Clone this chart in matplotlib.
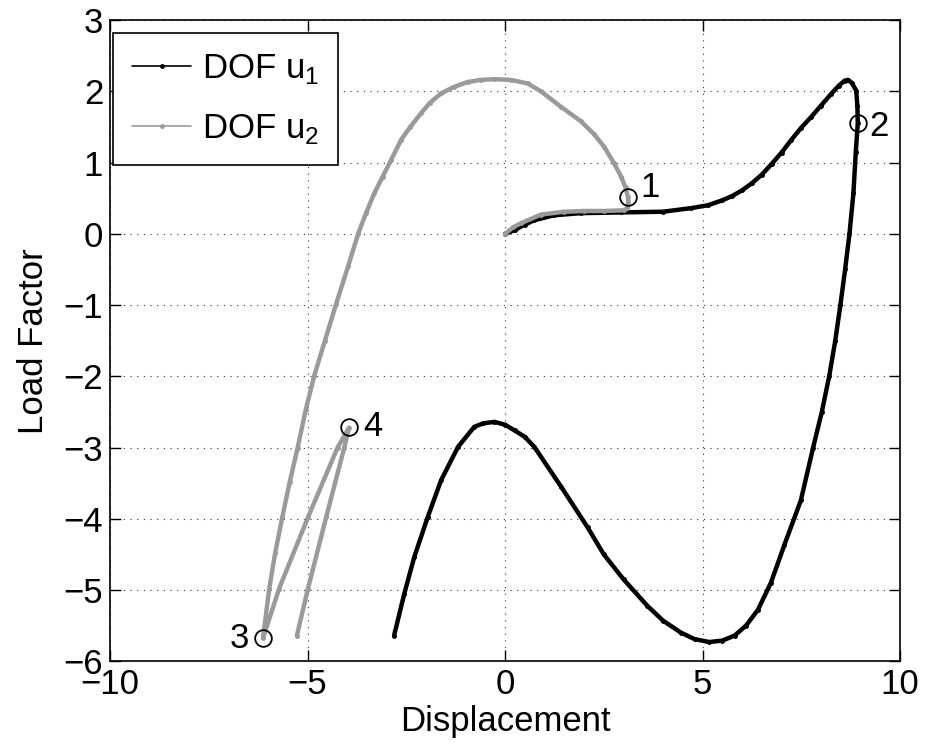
import matplotlib.pyplot as plt

plt.rcParams['font.family'] = ['Liberation Sans', 'DejaVu Sans']
plt.rcParams['mathtext.fontset'] = 'custom'
plt.rcParams['mathtext.rm'] = 'Liberation Sans'

# equilibrium path of DOF u1 (displacement, load factor)
u1_disp = [0.0, 0.24, 0.5, 0.74, 1.24, 1.92, 2.94, 4.0, 4.71, 5.13, 5.5, 5.75,
           6.0, 6.25, 6.5, 6.75, 7.0, 7.25, 7.5, 7.75, 8.0, 8.25, 8.45, 8.6,
           8.68, 8.78, 8.89, 8.92, 8.93, 8.88, 8.82, 8.72, 8.61, 8.49, 8.36, 8.21,
           8.02, 7.80, 7.49, 7.07, 6.73, 6.4, 6.1, 5.81, 5.5, 5.17, 4.8, 4.46,
           4.0, 3.6, 3.0, 2.5, 2.09, 1.42, 0.74, 0.5, 0.24, 0.0, -0.27, -0.55,
           -0.78, -1.19, -1.62, -1.96, -2.30, -2.55, -2.81]
u1_load = [0.0, 0.05, 0.13, 0.19, 0.26, 0.29, 0.30, 0.31, 0.36, 0.40, 0.47, 0.53,
           0.61, 0.71, 0.83, 0.98, 1.14, 1.32, 1.49, 1.64, 1.80, 1.96, 2.08, 2.15,
           2.16, 2.12, 2.01, 1.80, 1.55, 1.15, 0.57, 0.0, -0.5, -1.0, -1.5, -1.99,
           -2.5, -3.0, -3.74, -4.37, -4.9, -5.28, -5.5, -5.64, -5.71, -5.73, -5.69, -5.6,
           -5.43, -5.22, -4.85, -4.5, -4.12, -3.55, -2.99, -2.85, -2.76, -2.68, -2.64, -2.66,
           -2.71, -2.99, -3.46, -3.98, -4.54, -5.05, -5.64]

# equilibrium path of DOF u2
u2_disp = [0.0, 0.2, 0.41, 0.91, 1.5, 2.0, 2.5, 3.0, 3.1, 3.12, 3.11, 3.05, 2.94,
           2.76, 2.51, 2.25, 1.92, 1.42, 0.91, 0.57, 0.15, -0.27, -0.62, -0.95,
           -1.30, -1.62, -1.90, -2.13, -2.40, -2.63, -2.89, -3.10, -3.31, -3.52,
           -3.72, -3.97, -4.28, -4.56, -4.83, -5.05, -5.25, -5.45, -5.64, -5.82,
           -5.97, -6.13, -5.72, -4.99, -4.24, -3.95, -4.07, -4.53, -4.99, -5.27]
u2_load = [0.0, 0.09, 0.15, 0.27, 0.31, 0.32, 0.32, 0.33, 0.36, 0.45, 0.52, 0.65, 0.80,
           0.99, 1.22, 1.40, 1.58, 1.78, 2.0, 2.11, 2.16, 2.17, 2.16, 2.13,
           2.06, 1.97, 1.84, 1.69, 1.50, 1.32, 1.03, 0.80, 0.57, 0.29,
           0.0, -0.45, -0.99, -1.50, -1.99, -2.48, -3.0, -3.48, -3.98, -4.48,
           -4.98, -5.68, -4.98, -3.98, -3.0, -2.72, -3.0, -3.98, -4.98, -5.64]

# labelled limit points
pt_x = [3.11, 8.93, -6.13, -3.95]
pt_y = [0.52, 1.55, -5.68, -2.71]
pt_lbl = ['1', '2', '3', '4']

fig = plt.figure(figsize=(9.25, 7.43), dpi=100)
ax = fig.add_axes([0.119, 0.110, 0.854, 0.863])

ax.plot(u1_disp, u1_load, color='black', lw=3.2, marker='.', ms=5,
        solid_capstyle='round', solid_joinstyle='round', label='DOF u$_1$')
ax.plot(u2_disp, u2_load, color='#9a9a9a', lw=3.2, marker='.', ms=5,
        solid_capstyle='round', solid_joinstyle='round', label='DOF u$_2$')
ax.plot(pt_x, pt_y, ls='none', marker='o', ms=12, mfc='none', mec='black', mew=1.3)

offs = [(9, 7), (8, -2), (-10, 0), (10, 0)]
aligns = ['left', 'left', 'right', 'left']
for x, y, t, o, a in zip(pt_x, pt_y, pt_lbl, offs, aligns):
    ax.annotate(t, (x, y), textcoords='offset points', xytext=o,
                fontsize=25, va='center', ha=a)

ax.set_xlim(-10, 10)
ax.set_ylim(-6, 3)
ax.set_xticks([-10, -5, 0, 5, 10])
ax.set_yticks(range(-6, 4))
ax.grid(True, color='#333333', ls=(0, (1, 5)), lw=0.8)
ax.tick_params(direction='in', length=8, width=1, top=True, right=True,
               labelsize=25, pad=5)
for s in ax.spines.values():
    s.set_linewidth(1.2)
ax.set_xticklabels(['\u221210', '\u22125', '0', '5', '10'])
ax.set_yticklabels(['\u2212%d' % -v if v < 0 else str(v) for v in range(-6, 4)])

ax.set_xlabel('Displacement', fontsize=25, labelpad=3)
ax.set_ylabel('Load Factor', fontsize=25, labelpad=10)

leg = ax.legend(loc='upper left', fontsize=25, fancybox=False, framealpha=1,
                edgecolor='black', handlelength=1.7, handletextpad=0.3,
                borderpad=0.55, labelspacing=0.75, borderaxespad=0,
                bbox_to_anchor=(0.004, 0.98))
leg.get_frame().set_linewidth(1.2)
for h in leg.get_lines():
    h.set_linewidth(1.2)

fig.savefig('out.png', dpi=100)
